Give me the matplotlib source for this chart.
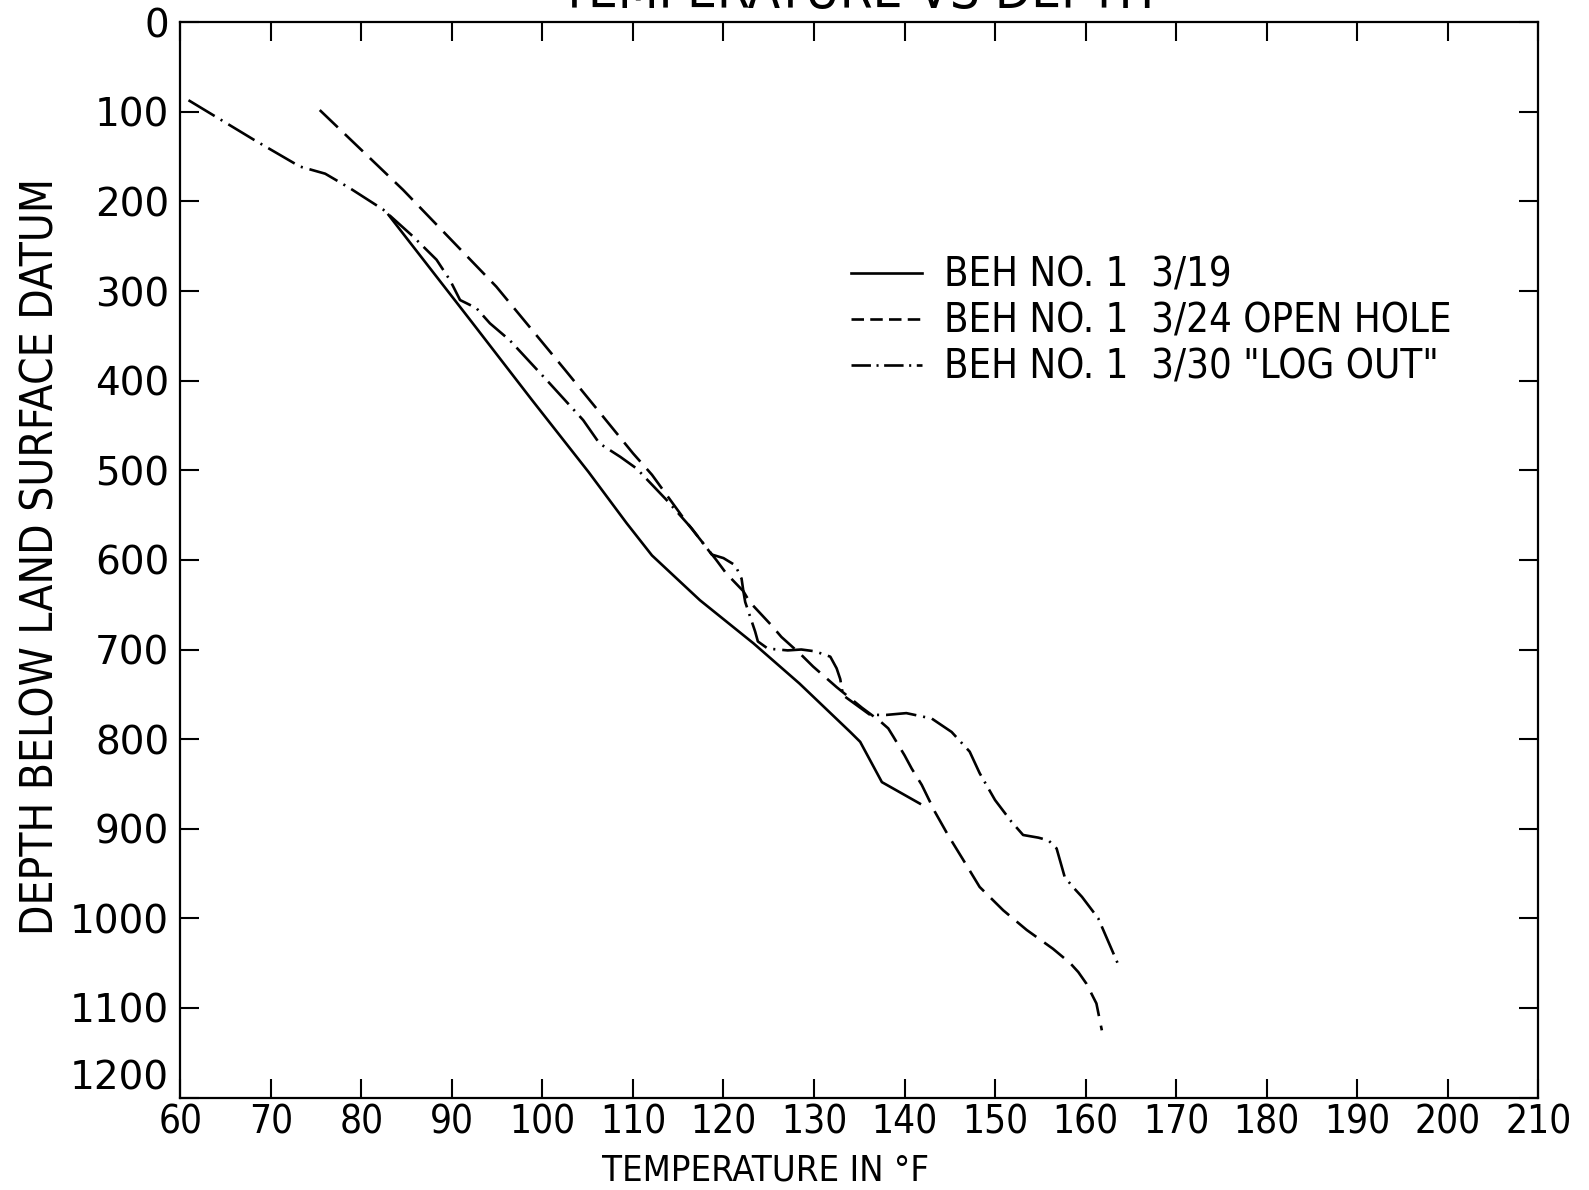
import matplotlib
matplotlib.use('Agg')
import matplotlib.pyplot as plt
from matplotlib import font_manager
from matplotlib.font_manager import FontProperties
from matplotlib.lines import Line2D

plt.rcParams['lines.scale_dashes'] = False

# look for a narrow / condensed face, the lettering on the original is condensed
narrow_file = None
for f in font_manager.fontManager.ttflist:
    cond = ('Narrow' in f.name or 'Condensed' in f.name
            or f.stretch in ('condensed', 'semi-condensed', 'extra-condensed'))
    if cond and f.style == 'normal' and f.weight in (400, 'normal', 'regular', 'book'):
        narrow_file = f.fname
        break


def nfont(size):
    if narrow_file:
        return FontProperties(fname=narrow_file, size=size)
    return FontProperties(family='DejaVu Sans', size=size)


# BEH NO.1 3/19
t_319 = [83.0, 92.0, 98.8, 105.1, 109.3, 112.1, 117.4, 123.3, 128.4, 134.0, 135.1, 137.5, 141.7]
d_319 = [215, 332, 421, 502, 559, 595, 645, 693, 738, 792, 803, 848, 872]

# BEH NO.1 3/24 open hole
t_324 = [75.4, 84.6, 94.9, 102.5, 110.0, 112.1, 115.7, 119.2, 120.3, 122.2, 122.9, 125.3,
         126.4, 128.6, 129.9, 132.5, 135.3, 137.3, 138.2, 138.75, 140.0, 140.8, 141.9,
         143.35, 144.8, 146.5, 148.3, 150.9, 153.5, 156.4, 158.3, 159.2, 160.1, 161.2, 161.8]
d_324 = [98, 187, 295, 388, 481, 505, 555, 600, 615, 635, 647, 673,
         686, 706, 719, 742, 765, 780, 788, 797, 818, 833, 851,
         881, 907, 935, 965, 991, 1013, 1034, 1050, 1060, 1073, 1095, 1125]

# BEH NO.1 3/30 "log out"
t_330 = [60.9, 68.1, 73.2, 76.0, 78.7, 82.4, 85.7, 88.3, 89.8, 90.9, 92.7, 94.2, 96.4,
         100.8, 104.5, 106.3, 108.6, 110.4, 113.7, 116.5, 118.7, 120.0, 121.3, 122.0,
         122.2, 122.4, 123.5, 123.8, 124.9, 127.1, 128.6, 130.1, 131.8, 132.5, 132.9,
         133.2, 136.2, 138.0, 140.2, 143.0, 145.2, 147.2, 148.3, 150.0, 151.8, 153.1,
         154.8, 155.9, 156.8, 157.7, 158.6, 159.6, 161.4, 162.3, 163.8]
d_330 = [87, 131, 161, 169, 185, 209, 239, 265, 288, 310, 319, 336, 355,
         403, 444, 470, 485, 498, 533, 565, 594, 598, 606, 621,
         635, 647, 680, 691, 699, 701, 700, 702, 708, 721, 733,
         751, 773, 773, 771, 777, 792, 814, 838, 868, 892, 907,
         910, 913, 922, 954, 965, 976, 1000, 1021, 1056]

labels = ['BEH NO. 1  3/19', 'BEH NO. 1  3/24 OPEN HOLE', 'BEH NO. 1  3/30 "LOG OUT"']
xticks = list(range(60, 211, 10))
yticks = list(range(0, 1201, 100))

fig = plt.figure(figsize=(15.89, 11.90), dpi=100)
ax = fig.add_axes([0.1135, 0.0777, 0.8545, 0.9036])

lw = 1.9
ax.plot(t_319, d_319, color='black', lw=lw)
ax.plot(t_324, d_324, color='black', lw=lw, dashes=(18, 7))
ax.plot(t_330, d_330, color='black', lw=lw, dashes=(22, 5, 1.5, 5))

ax.set_xlim(60, 210)
ax.set_ylim(1200, 0)
ax.set_xticks(xticks)
ax.set_yticks(yticks)
ax.set_xticklabels([str(v) for v in xticks])
ax.set_yticklabels([str(v) for v in yticks], fontfamily='DejaVu Sans', fontsize=28)
ax.get_yticklabels()[-1].set_verticalalignment('bottom')
ax.tick_params(axis='both', direction='in', length=14, width=1.5,
               top=True, right=True)
ax.tick_params(axis='x', pad=4)
ax.tick_params(axis='y', pad=8)
for s in ax.spines.values():
    s.set_linewidth(1.6)

handles = [Line2D([], [], color='black', lw=lw),
           Line2D([], [], color='black', lw=lw, dashes=(9, 4.5)),
           Line2D([], [], color='black', lw=lw, dashes=(14, 4, 1.5, 4))]

title = fig.text(0.539, 0.9935, 'TEMPERATURE VS DEPTH', fontproperties=nfont(40),
                 ha='center', va='baseline')
xlab = fig.text(0.482, 0.008, 'TEMPERATURE IN °F', fontproperties=nfont(29),
                ha='center', va='baseline')
ylab = fig.text(0.0255, 0.532, 'DEPTH BELOW LAND SURFACE DATUM', fontproperties=nfont(34),
                rotation=90, ha='center', va='center')

# size the lettering to the widths measured on the original (pixels)
r = fig.canvas.get_renderer()


def fit(txt, target, use_height=False):
    bb = txt.get_window_extent(renderer=r)
    cur = bb.height if use_height else bb.width
    txt.set_fontsize(txt.get_fontsize() * target / cur)


fit(title, 595)
fit(xlab, 326)
fit(ylab, 757, use_height=True)

probe = fig.text(0, 0, '100', fontproperties=nfont(31))
pw = probe.get_window_extent(renderer=r).width
xt_size = 31 * 66 / pw
probe.remove()
for lab in ax.get_xticklabels():
    lab.set_fontproperties(nfont(xt_size))

probe = fig.text(0, 0, labels[1], fontproperties=nfont(33))
pw = probe.get_window_extent(renderer=r).width
leg_size = 33 * 508 / pw
probe.remove()

ax.legend(handles, labels, loc='upper left', bbox_to_anchor=(0.494, 0.783),
          frameon=False, prop=nfont(leg_size),
          handlelength=71 / (leg_size * 1.389), handletextpad=22 / (leg_size * 1.389),
          labelspacing=0.15, borderpad=0, borderaxespad=0)

fig.savefig('out.png', dpi=100)
